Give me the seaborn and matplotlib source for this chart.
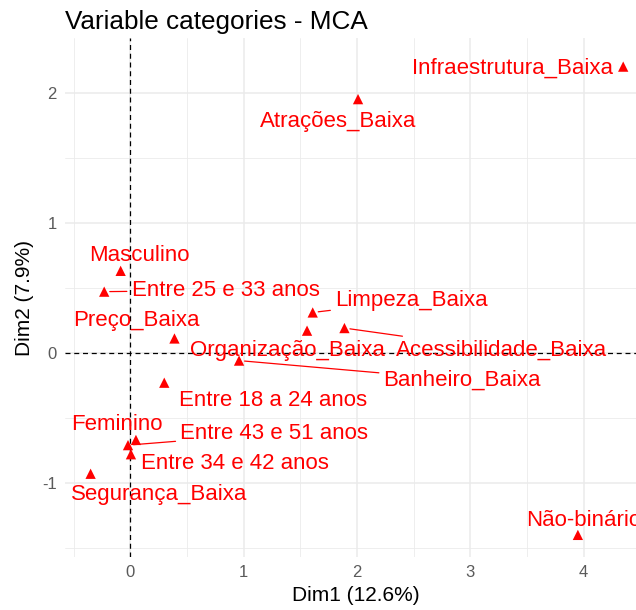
import matplotlib
matplotlib.use("Agg")
import matplotlib.pyplot as plt
import seaborn as sns
import pandas as pd

categories = ["Masculino", "Entre 25 e 33 anos", "Preço_Baixa", "Limpeza_Baixa",
              "Organização_Baixa", "Acessibilidade_Baixa", "Banheiro_Baixa",
              "Entre 18 a 24 anos", "Feminino", "Entre 43 e 51 anos",
              "Entre 34 e 42 anos", "Segurança_Baixa", "Atrações_Baixa",
              "Infraestrutura_Baixa", "Não-binário"]
dim1 = [-0.085, -0.23, 0.39, 1.61, 1.56, 1.89, 0.96, 0.30, 0.05, -0.02, 0.006, -0.35, 2.01, 4.35, 3.95]
dim2 = [0.63, 0.47, 0.11, 0.31, 0.17, 0.19, -0.06, -0.23, -0.67, -0.71, -0.78, -0.93, 1.95, 2.20, -1.40]
label_x = [0.08, 0.84, 0.05, 2.48, 1.39, 3.28, 2.93, 1.26, -0.12, 1.27, 0.92, 0.255, 1.83, 3.376, 4.0]
label_y = [0.745, 0.48, 0.25, 0.40, 0.02, 0.02, -0.21, -0.365, -0.555, -0.62, -0.85, -1.09, 1.775, 2.19, -1.29]
with_segment = [False, True, False, True, False, True, True, False, False, True, False, False, False, False, False]

df = pd.DataFrame({"Dim1": dim1, "Dim2": dim2, "cat": categories})

sns.set_theme(style="whitegrid")
plt.rcParams["font.family"] = ["Liberation Sans", "DejaVu Sans"]
plt.rcParams["axes.unicode_minus"] = False

fig = plt.figure(figsize=(6.36, 6.10), dpi=100)
ax = fig.add_axes([65/636, 1-557/610, (647-65)/636, (557-38)/610])

ax.set_xlim(-0.576, 4.56)
ax.set_ylim(-1.57, 2.42)
ax.set_xticks([0, 1, 2, 3, 4])
ax.set_yticks([-1, 0, 1, 2])
ax.set_xticks([-0.5, 0.5, 1.5, 2.5, 3.5, 4.5], minor=True)
ax.set_yticks([-1.5, -0.5, 0.5, 1.5], minor=True)
ax.grid(which="major", color="#EBEBEB", lw=1.1)
ax.grid(which="minor", color="#EBEBEB", lw=0.6)
ax.set_facecolor("white")
for s in ax.spines.values():
    s.set_visible(False)
ax.tick_params(axis="both", which="major", length=3, width=1, color="#333333",
               labelsize=12, labelcolor="#5a5a5a", pad=3)
ax.tick_params(axis="both", which="minor", length=0)

ax.axhline(0, color="black", ls=(0, (4, 3)), lw=0.9, zorder=1)
ax.axvline(0, color="black", ls=(0, (4, 3)), lw=0.9, zorder=1)

sns.scatterplot(data=df, x="Dim1", y="Dim2", marker="^", color="red",
                s=55, edgecolor="none", ax=ax, zorder=3, clip_on=False)

for c, px, py, lx, ly, seg in zip(categories, dim1, dim2, label_x, label_y, with_segment):
    if seg:
        ax.annotate(c, xy=(px, py), xytext=(lx, ly), ha="center", va="center",
                    fontsize=16, color="red", zorder=4,
                    arrowprops=dict(arrowstyle="-", color="red", lw=0.9,
                                    shrinkA=1, shrinkB=4))
    else:
        ax.text(lx, ly, c, ha="center", va="center", fontsize=16, color="red", zorder=4)

ax.set_xlabel("Dim1 (12.6%)", fontsize=15, color="black", labelpad=4)
ax.set_ylabel("Dim2 (7.9%)", fontsize=15, color="black", labelpad=6)
fig.text(65/636, 1-22/610, "Variable categories - MCA", fontsize=18.8,
         ha="left", va="center", color="black")

fig.savefig("out.png", dpi=100)
